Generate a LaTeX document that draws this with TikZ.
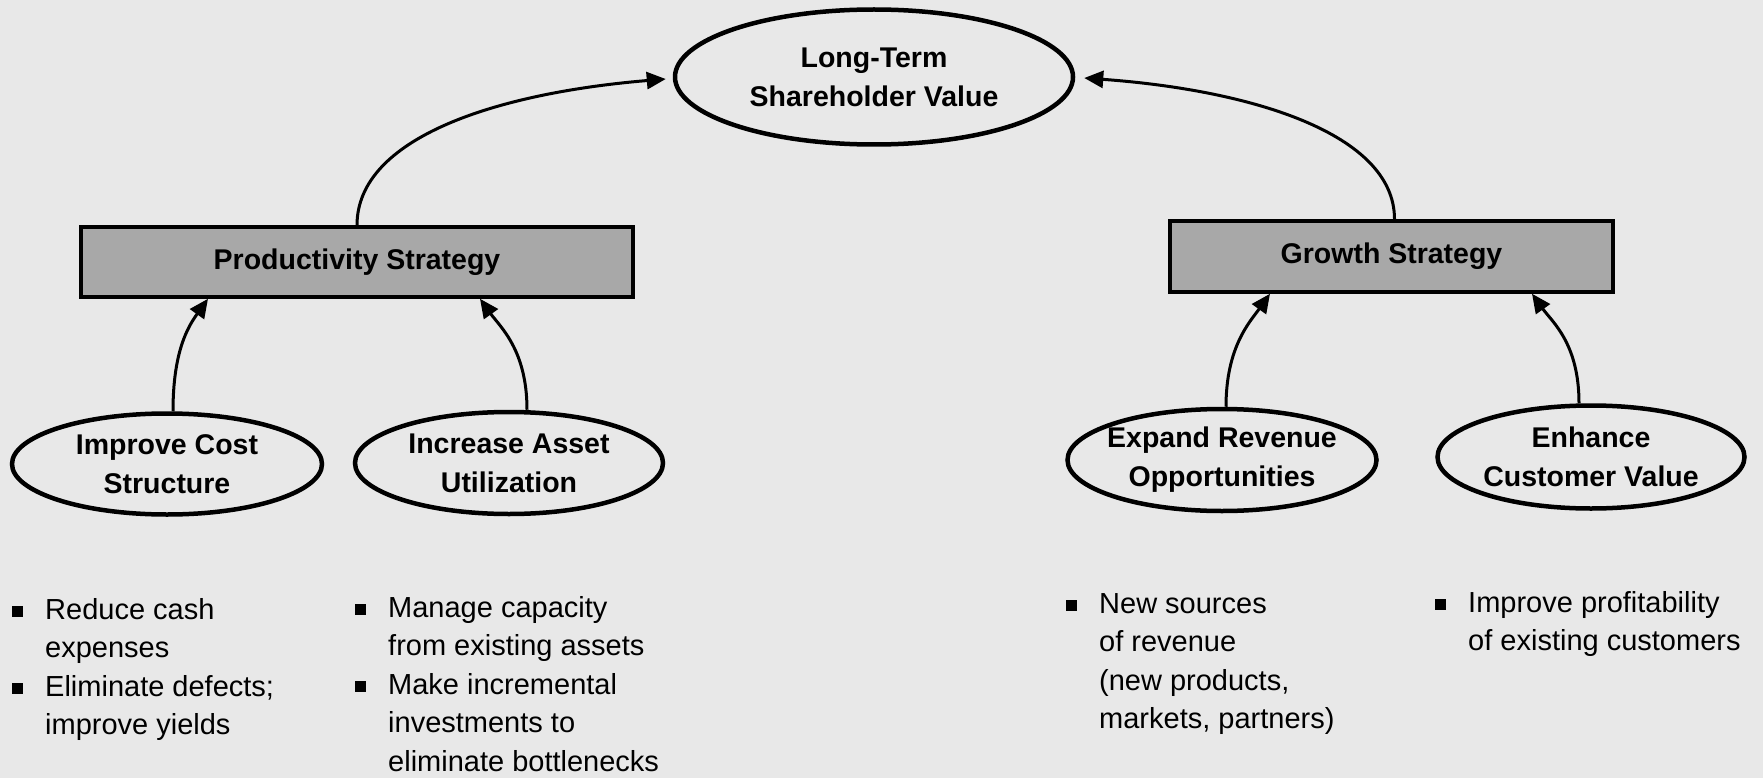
\documentclass[tikz,border=0pt]{standalone}
\usepackage{fontspec}
\setmainfont{Liberation Sans}
\usetikzlibrary{shapes.geometric,arrows.meta,calc}
\definecolor{bgcol}{HTML}{E8E8E8}
\definecolor{boxgray}{HTML}{A8A8A8}
\newcommand{\sqbul}{\raisebox{2pt}{\rule{11pt}{11pt}}}
\begin{document}
\begin{tikzpicture}[x=1pt,y=-1pt,
  oval/.style={ellipse, draw, line width=4.5pt, inner sep=0pt},
  lbl/.style={font=\fontsize{28.5}{39}\selectfont\bfseries, align=center, inner sep=0pt},
  strat/.style={draw, line width=3.5pt, fill=boxgray, inner sep=0pt, font=\fontsize{28.5}{39}\selectfont\bfseries},
  conn/.style={line width=3pt, -{Triangle[length=19pt,width=17pt]}},
  blist/.style={anchor=base west, inner sep=0pt, font=\fontsize{29}{38.5}\selectfont}
]
\fill[bgcol] (0,0) rectangle (1763,778);
\useasboundingbox (0,0) rectangle (1763,778);

% top goal
\node[oval, minimum width=398pt, minimum height=135pt,
  label={[lbl]center:{Long-Term\\Shareholder Value}}] (top) at (874,77) {};

% strategy boxes
\node[strat, minimum width=552pt, minimum height=70pt] (prod) at (357,262) {Productivity Strategy};
\node[strat, minimum width=443pt, minimum height=71pt] (grow) at (1391.5,256.5) {Growth Strategy};

% sub-goals
\node[oval, minimum width=310pt, minimum height=101pt,
  label={[lbl]center:{Improve Cost\\Structure}}] (ic) at (167,464) {};
\node[oval, minimum width=308pt, minimum height=102pt,
  label={[lbl]center:{Increase Asset\\Utilization}}] (ia) at (509,463) {};
\node[oval, minimum width=309pt, minimum height=102pt,
  label={[lbl]center:{Expand Revenue\\Opportunities}}] (er) at (1222,460) {};
\node[oval, minimum width=307pt, minimum height=103pt,
  label={[lbl]center:{Enhance\\Customer Value}}] (ec) at (1591,457) {};

% connectors
\draw[conn] (prod.north) .. controls +(0,-88) and +(-168,14) .. ([xshift=-7pt,yshift=-2pt]top.west);
\draw[conn] ([xshift=3pt]grow.north) .. controls +(0,-86) and +(166,12) .. ([xshift=9pt,yshift=-1pt]top.east);
\draw[conn] ([xshift=6pt]ic.north) .. controls +(0,-60) and +(-20,28) .. ([xshift=-149pt]prod.south);
\draw[conn] ([xshift=18pt]ia.north) .. controls +(0,-60) and +(20,28) .. ([xshift=123pt]prod.south);
\draw[conn] ([xshift=4pt]er.north) .. controls +(0,-60) and +(-20,28) .. ([xshift=-121.5pt]grow.south);
\draw[conn] ([xshift=-12pt]ec.north) .. controls +(0,-60) and +(20,28) .. ([xshift=140.5pt]grow.south);

% bullet lists
\node[blist] (b1) at (12,619) {\begin{tabular}[t]{@{}l@{\hspace{22pt}}l@{}}
\sqbul & Reduce cash\\ & expenses\\ \sqbul & Eliminate defects;\\ & improve yields\end{tabular}};
\node[blist] (b2) at (355,617) {\begin{tabular}[t]{@{}l@{\hspace{22pt}}l@{}}
\sqbul & Manage capacity\\ & from existing assets\\ \sqbul & Make incremental\\ & investments to\\ & eliminate bottlenecks\end{tabular}};
\node[blist] (b3) at (1066,613) {\begin{tabular}[t]{@{}l@{\hspace{22pt}}l@{}}
\sqbul & New sources\\ & of revenue\\ & (new products,\\ & markets, partners)\end{tabular}};
\node[blist] (b4) at (1435,612) {\begin{tabular}[t]{@{}l@{\hspace{22pt}}l@{}}
\sqbul & Improve profitability\\ & of existing customers\end{tabular}};
\end{tikzpicture}
\end{document}
